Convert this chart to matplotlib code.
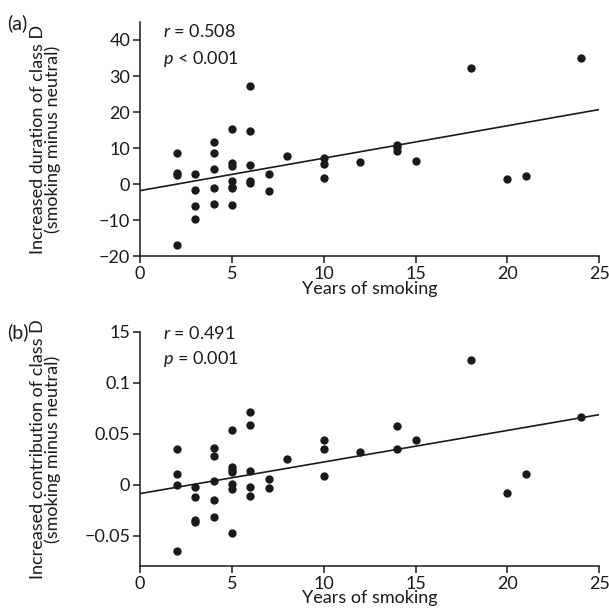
import numpy as np
import matplotlib
matplotlib.use('Agg')
import matplotlib.pyplot as plt

plt.rcParams['font.family'] = ['Lato', 'DejaVu Sans']
plt.rcParams['mathtext.fontset'] = 'custom'
plt.rcParams['mathtext.it'] = 'Lato:italic'
plt.rcParams['mathtext.rm'] = 'Lato'

# Data
years = [2, 2, 2, 2, 3, 3, 3, 3, 4, 4, 4, 4, 4,
         5, 5, 5, 5, 5, 5, 5, 6, 6, 6, 6, 6, 7, 7, 8,
         10, 10, 10, 12, 14, 14, 14, 15, 18, 20, 21, 24]
duration = [8.6, 3.2, 2.5, -16.8, 2.9, -1.6, -6.1, -9.8, 11.6, 8.7, 4.1, -1.0, -5.6,
            15.4, 6.0, 5.0, 1.0, -0.7, -1.2, -5.8, 27.2, 14.8, 5.4, 1.0, 0.3, 2.7, -1.9, 7.8,
            7.3, 5.6, 1.6, 6.1, 10.9, 10.2, 9.1, 6.4, 32.3, 1.5, 2.3, 34.9]

years_b = [2, 2, 2, 2, 3, 3, 3, 3, 4, 4, 4, 4, 4,
           5, 5, 5, 5, 5, 5, 5, 6, 6, 6, 6, 6, 7, 7, 8,
           10, 10, 10, 12, 14, 14, 15, 18, 20, 21, 24]
contribution = [0.035, 0.010, 0.000, -0.065, -0.002, -0.0125, -0.0345, -0.037,
                0.0355, 0.028, 0.004, -0.0154, -0.032,
                0.0536, 0.0177, 0.0147, 0.012, 0.0007, -0.0044, -0.048,
                0.071, 0.0587, 0.013, -0.0024, -0.0113, 0.0055, -0.0037, 0.0253,
                0.0439, 0.0351, 0.0081, 0.032, 0.058, 0.0351, 0.0439, 0.122,
                -0.0081, 0.0101, 0.0662]

# regression lines (intercept, slope) as drawn
fit_a = (-1.8, 0.90)
fit_b = (-0.0088, 0.0031)

xticks = [0, 5, 10, 15, 20, 25]
yticks_a = [-20, -10, 0, 10, 20, 30, 40]
ytick_labels_a = ['\u221220', '\u221210', '0', '10', '20', '30', '40']
yticks_b = [-0.05, 0, 0.05, 0.1, 0.15]
ytick_labels_b = ['\u22120.05', '0', '0.05', '0.1', '15']

ink = '#1a1a1a'
fs = 13
fig = plt.figure(figsize=(6.09, 6.10), dpi=100)
ax1 = fig.add_axes([0.23, 0.580, 0.754, 0.384])
ax2 = fig.add_axes([0.23, 0.072, 0.754, 0.384])


def style(ax):
    for s in ['top', 'right']:
        ax.spines[s].set_visible(False)
    for s in ['left', 'bottom']:
        ax.spines[s].set_linewidth(1.1)
        ax.spines[s].set_color(ink)
    ax.tick_params(direction='out', length=5, width=1.1, labelsize=fs,
                   colors=ink, pad=2)
    ax.set_xlim(0, 25)
    ax.set_xticks(xticks)
    ax.set_xlabel('Years of smoking', fontsize=fs, labelpad=-1, color=ink)
    ax.yaxis.set_label_coords(-0.172, 0.5)


# Panel (a)
style(ax1)
ax1.scatter(years, duration, s=36, color=ink, zorder=3, linewidths=0)
xs = np.array([0, 25])
ax1.plot(xs, fit_a[0] + fit_a[1] * xs, color=ink, lw=1.2)
ax1.set_ylim(-20, 45)
ax1.set_yticks(yticks_a)
ax1.set_yticklabels(ytick_labels_a)
ax1.set_ylabel('Increased duration of class D\n(smoking minus neutral)', fontsize=fs,
               linespacing=0.9, color=ink)
ax1.text(0.05, 0.96, '$\\it{r}$ = 0.508', transform=ax1.transAxes, fontsize=fs, va='center', color=ink)
ax1.text(0.05, 0.84, '$\\it{p}$ < 0.001', transform=ax1.transAxes, fontsize=fs, va='center', color=ink)
fig.text(0.012, 0.962, '(a)', fontsize=14, va='center', color=ink)

# Panel (b)
style(ax2)
ax2.scatter(years_b, contribution, s=36, color=ink, zorder=3, linewidths=0)
ax2.plot(xs, fit_b[0] + fit_b[1] * xs, color=ink, lw=1.2)
ax2.set_ylim(-0.08, 0.15)
ax2.set_yticks(yticks_b)
ax2.set_yticklabels(ytick_labels_b)
ax2.set_ylabel('Increased contribution of class D\n(smoking minus neutral)', fontsize=fs,
               linespacing=0.9, color=ink)
ax2.text(0.05, 0.995, '$\\it{r}$ = 0.491', transform=ax2.transAxes, fontsize=fs, va='center', color=ink)
ax2.text(0.05, 0.885, '$\\it{p}$ = 0.001', transform=ax2.transAxes, fontsize=fs, va='center', color=ink)
fig.text(0.012, 0.455, '(b)', fontsize=14, va='center', color=ink)

fig.savefig('out.png', dpi=100)
